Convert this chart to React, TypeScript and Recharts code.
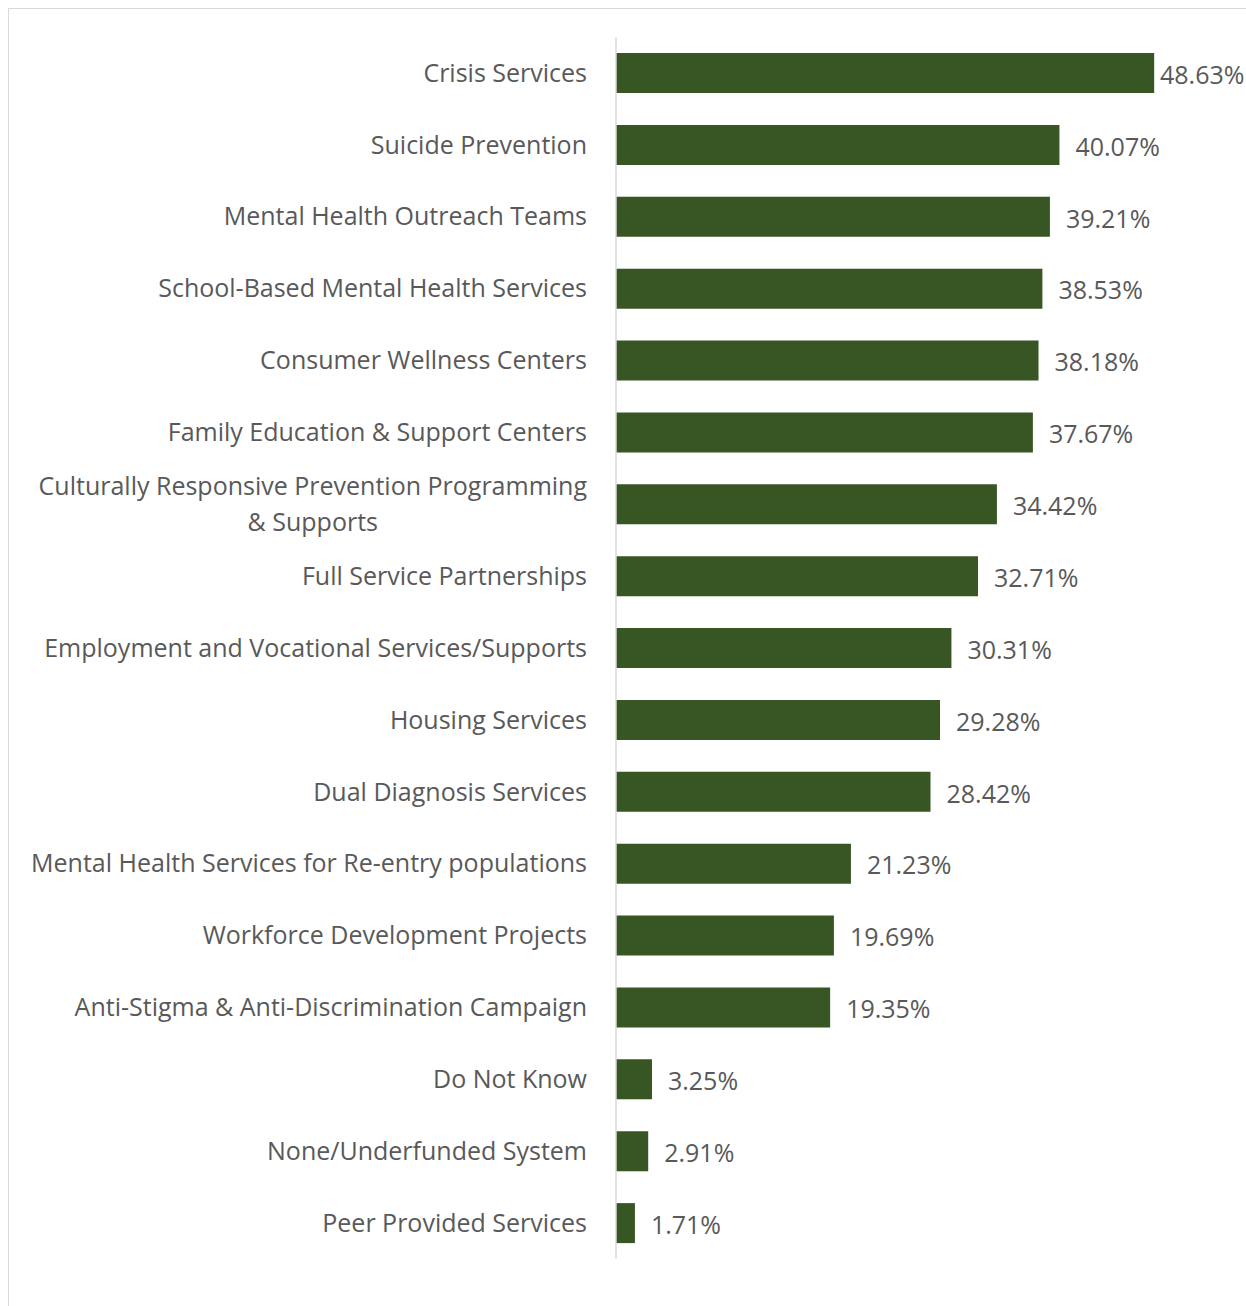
import React from "react";
import { BarChart, Bar, XAxis, YAxis, LabelList } from "recharts";

const categories = [
  "Crisis Services",
  "Suicide Prevention",
  "Mental Health Outreach Teams",
  "School-Based Mental Health Services",
  "Consumer Wellness Centers",
  "Family Education & Support Centers",
  "Culturally Responsive Prevention Programming & Supports",
  "Full Service Partnerships",
  "Employment and Vocational Services/Supports",
  "Housing Services",
  "Dual Diagnosis Services",
  "Mental Health Services for Re-entry populations",
  "Workforce Development Projects",
  "Anti-Stigma & Anti-Discrimination Campaign",
  "Do Not Know",
  "None/Underfunded System",
  "Peer Provided Services",
];

const values = [
  48.63, 40.07, 39.21, 38.53, 38.18, 37.67, 34.42, 32.71, 30.31, 29.28, 28.42,
  21.23, 19.69, 19.35, 3.25, 2.91, 1.71,
];

const data = categories.map((name, i) => ({ name, value: values[i] }));

const FONT = "'Open Sans', sans-serif";
const FONT_SIZE = 25;
const TEXT_COLOR = "#595959";
const BAR_COLOR = "#375623";
const LABEL_MAX_X = 1151;

let canvasCtx: CanvasRenderingContext2D | null = null;
function measure(text: string): number {
  if (!canvasCtx) {
    const c = document.createElement("canvas");
    canvasCtx = c.getContext("2d");
  }
  if (!canvasCtx) return text.length * FONT_SIZE * 0.5;
  canvasCtx.font = `${FONT_SIZE}px 'Open Sans'`;
  return canvasCtx.measureText(text).width;
}

function wrap(text: string, maxW: number): string[] {
  const words = text.split(" ");
  const lines: string[] = [];
  let cur = "";
  for (const w of words) {
    const t = cur ? cur + " " + w : w;
    if (measure(t) > maxW && cur) {
      lines.push(cur);
      cur = w;
    } else {
      cur = t;
    }
  }
  if (cur) lines.push(cur);
  // avoid a line ending with a lone "&"
  for (let i = 0; i < lines.length - 1; i++) {
    if (lines[i].endsWith(" &")) {
      lines[i] = lines[i].slice(0, -2);
      lines[i + 1] = "& " + lines[i + 1];
    }
  }
  return lines;
}

const CategoryTick = (props: any) => {
  const { x, y, payload } = props;
  const xEnd = x - 29;
  const lines = wrap(payload.value, 600);
  if (lines.length === 1) {
    return (
      <text
        x={xEnd}
        y={y}
        dy="0.35em"
        textAnchor="end"
        fill={TEXT_COLOR}
        fontFamily={FONT}
        fontSize={FONT_SIZE}
      >
        {payload.value}
      </text>
    );
  }
  const w1 = measure(lines[0]);
  const lh = 36;
  const top = y - ((lines.length - 1) * lh) / 2;
  return (
    <g>
      {lines.map((l, i) => (
        <text
          key={i}
          x={i === 0 ? xEnd : xEnd - w1 / 2}
          y={top + i * lh}
          dy="0.35em"
          textAnchor={i === 0 ? "end" : "middle"}
          fill={TEXT_COLOR}
          fontFamily={FONT}
          fontSize={FONT_SIZE}
        >
          {l}
        </text>
      ))}
    </g>
  );
};

const ValueLabel = (props: any) => {
  const { x, y, width, height, value } = props;
  const lx = Math.min(x + width + 16, LABEL_MAX_X);
  return (
    <text
      x={lx}
      y={y + height / 2 + 2}
      dy="0.35em"
      textAnchor="start"
      fill={TEXT_COLOR}
      fontFamily={FONT}
      fontSize={FONT_SIZE}
    >
      {`${Number(value).toFixed(2)}%`}
    </text>
  );
};

export default function App() {
  return (
    <div
      style={{
        position: "absolute",
        left: 8,
        top: 8,
        width: 1238,
        height: 1298,
        overflow: "hidden",
      }}
    >
      <div
        style={{
          width: 1300,
          height: 1330,
          border: "1px solid #d9d9d9",
          background: "#fff",
        }}
      >
        <BarChart
          width={1271}
          height={1289}
          data={data}
          layout="vertical"
          margin={{ top: 28, right: 0, bottom: 39, left: 0 }}
          barSize={40}
        >
          <XAxis type="number" domain={[0, 60]} hide />
          <YAxis
            type="category"
            dataKey="name"
            width={607}
            tickLine={false}
            tickSize={0}
            tickMargin={0}
            axisLine={{ stroke: "#d9d9d9", strokeWidth: 1.5 }}
            tick={<CategoryTick />}
            interval={0}
          />
          <Bar dataKey="value" fill={BAR_COLOR} isAnimationActive={false}>
            <LabelList dataKey="value" content={<ValueLabel />} />
          </Bar>
        </BarChart>
      </div>
    </div>
  );
}
